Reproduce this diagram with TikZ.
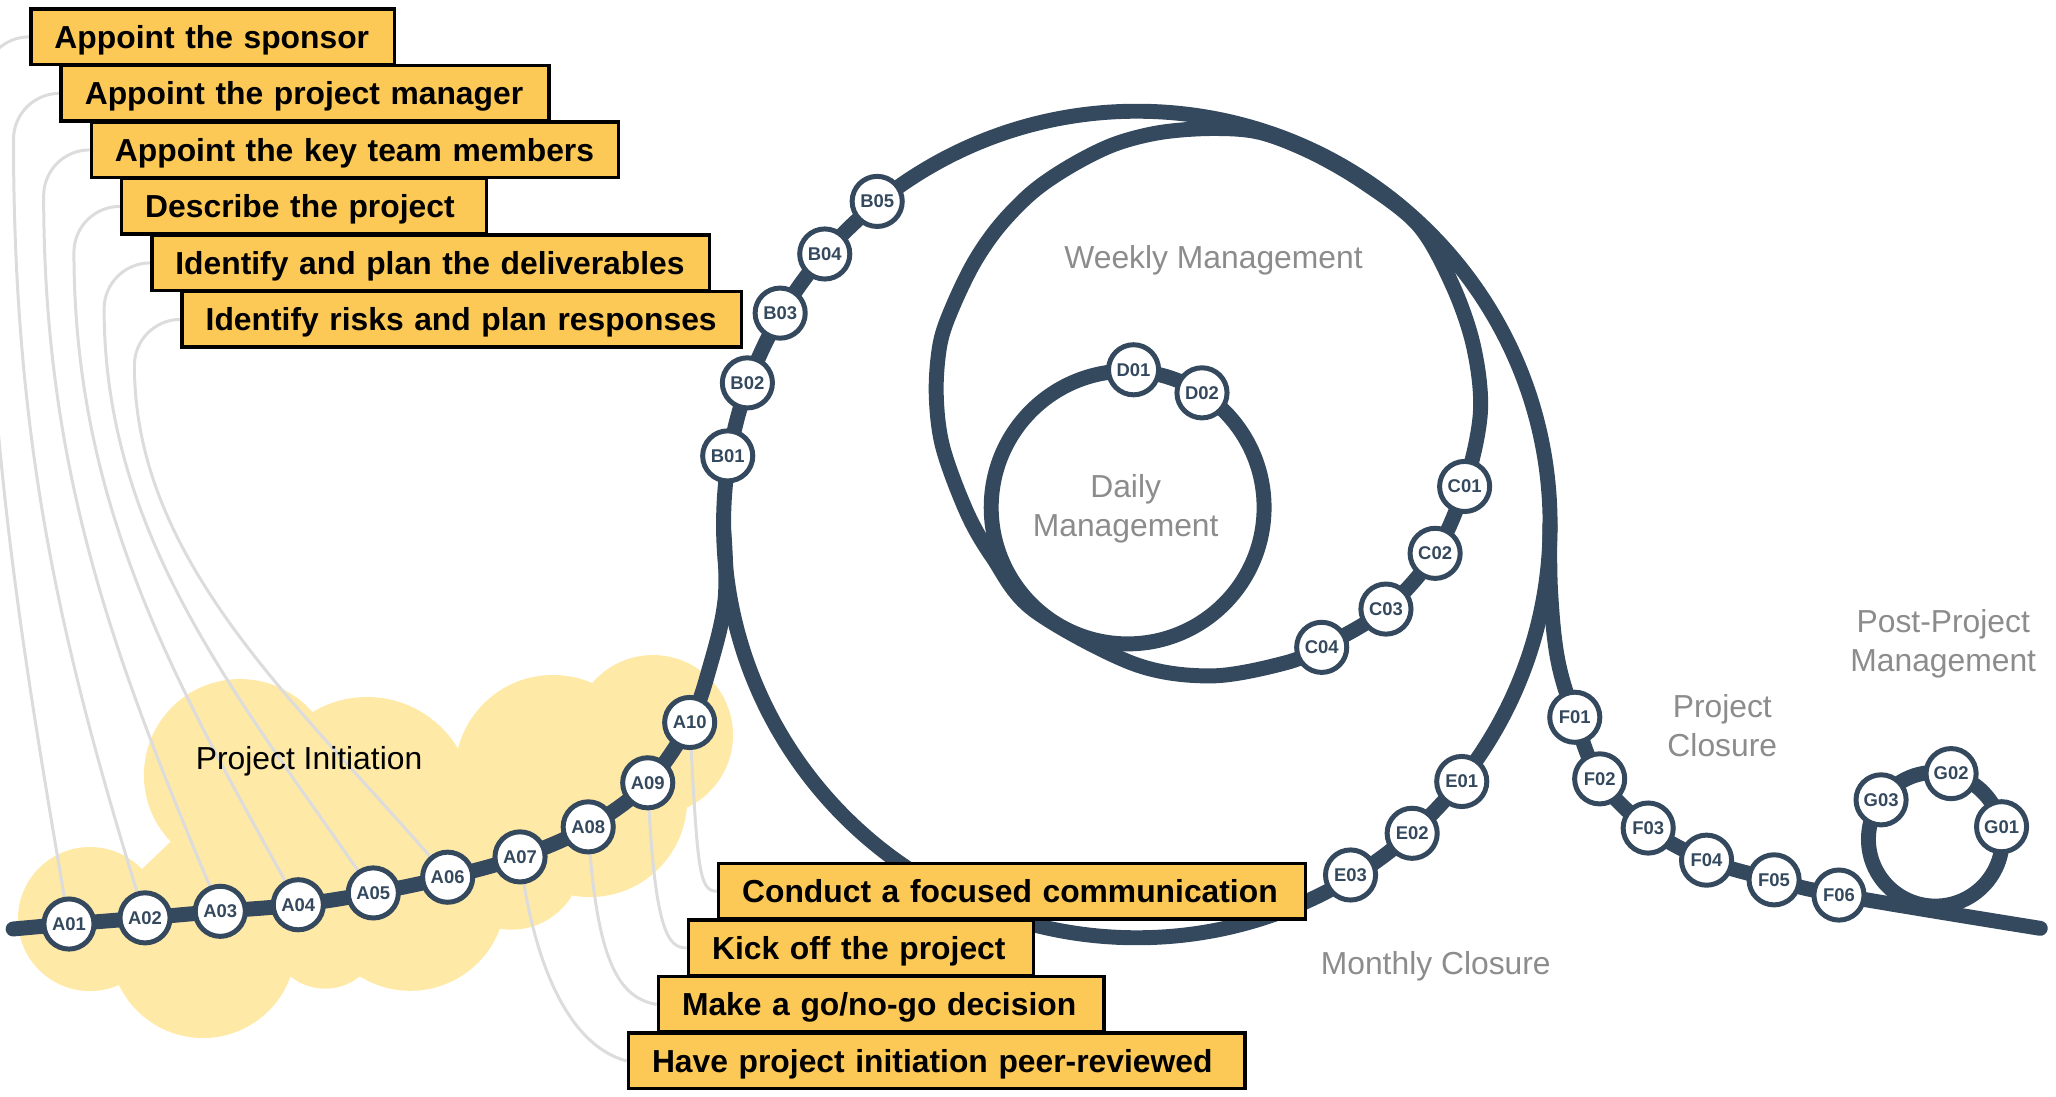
\documentclass[tikz,border=0pt]{standalone}
\usepackage{fontspec}
\setmainfont{Liberation Sans}
\definecolor{track}{HTML}{34495E}
\definecolor{boxfill}{HTML}{FCC957}
\definecolor{cloudfill}{HTML}{FFE9A6}
\definecolor{connc}{HTML}{DCDCDC}
\definecolor{labelc}{HTML}{8C8C8C}
\pgfdeclarelayer{cloudL}\pgfdeclarelayer{connL}\pgfdeclarelayer{trackL}
\pgfsetlayers{cloudL,connL,trackL,main}
\tikzset{
 stop/.style={circle, draw=track, line width=1.08pt, fill=white, inner sep=0pt,
   minimum size=0.382cm, font=\fontsize{4}{4.8}\selectfont\bfseries, text=track},
 trk/.style={draw=track, line width=3.24pt, line cap=round, line join=round},
 conn/.style={draw=connc, line width=0.65pt},
 task/.style={draw=black, line width=0.77pt, fill=boxfill, anchor=north west,
   inner xsep=0.18cm, inner ysep=0pt, minimum height=0.423cm, text height=0.174cm,
   text depth=0cm, align=left, font=\fontsize{6.9}{8.3}\selectfont\bfseries},
 phase/.style={text=labelc, font=\fontsize{6.9}{8.3}\selectfont, inner sep=0pt, align=center},
}
\begin{document}
\begin{tikzpicture}[x=0.01cm, y=-0.01cm]
\useasboundingbox (0,0) rectangle (1568,836);

% ---------- stops ----------
\foreach \n/\x/\y in {A01/52.6/704.7, A02/110.6/700, A03/168/695, A04/227.5/690,
  A05/284.7/681, A06/341.4/669, A07/396.6/653.5, A08/448.6/630.6, A09/494/597, A10/526/551,
  B01/555/347.7, B02/570/292, B03/595/238.8, B04/629/193.7, B05/669/153.6,
  C01/1117/371, C02/1094.5/422, C03/1057/464.5, C04/1008/493.7,
  D01/864.5/282, D02/916.7/299.6,
  E01/1114.8/596, E02/1077/635.5, E03/1030/667.3,
  F01/1201/547, F02/1220/594, F03/1257/631.5, F04/1301.5/656, F05/1353/671, F06/1402.5/682.6,
  G01/1526.5/630.5, G02/1488/590, G03/1434.6/610}
  \node[stop] (\n) at (\x,\y) {\n};

% ---------- task boxes ----------
\node[task, text width=2.413cm] (b1) at (22.2,5.6) {Appoint the sponsor};
\node[task, text width=3.36cm] (b2) at (45.3,48.7) {Appoint the project manager};
\node[task, text width=3.658cm] (b3) at (68.3,91.8) {Appoint the key team members};
\node[task, text width=2.42cm] (b4) at (91.4,134.9) {Describe the project};
\node[task, text width=3.891cm] (b5) at (114.4,178) {Identify and plan the deliverables};
\node[task, text width=3.903cm] (b6) at (137.5,221.1) {Identify risks and plan responses};
\node[task, text width=4.114cm] (b7) at (546.6,657.2) {Conduct a focused communication};
\node[task, text width=2.271cm] (b8) at (523.7,700.4) {Kick off the project};
\node[task, text width=3.035cm] (b9) at (500.8,743.5) {Make a go/no-go decision};
\node[task, text width=4.34cm] (b10) at (477.9,786.6) {Have project initiation peer-reviewed};

% ---------- phase labels ----------
\node[phase, anchor=base] (wk) at (925.5,204.6) {Weekly Management};
\node[phase, anchor=north] (dm) at (858.5,361.4) {Daily\\Management};
\node[phase, anchor=base] (mc) at (1095,743) {Monthly Closure};
\node[phase, anchor=north] (pc) at (1313.5,529.2) {Project\\Closure};
\node[phase, anchor=north] (pp) at (1482,464.3) {Post-Project\\Management};
\node[anchor=base west, inner sep=0pt, font=\fontsize{6.9}{8.3}\selectfont] (pi) at (148.7,586.7) {Project Initiation};

% ---------- cloud ----------
\begin{pgfonlayer}{cloudL}
\fill[cloudfill] (68.6,700.9) circle[radius=0.549cm];
\fill[cloudfill] (154.8,720.7) circle[radius=0.709cm];
\fill[cloudfill] (183,591.1) circle[radius=0.732cm];
\fill[cloudfill] (279.9,612.4) circle[radius=0.808cm];
\fill[cloudfill] (421.7,589.5) circle[radius=0.747cm];
\fill[cloudfill] (498,560.6) circle[radius=0.61cm];
\fill[cloudfill] (450,610.1) circle[radius=0.74cm];
\fill[cloudfill] (390,655) circle[radius=0.54cm];
\fill[cloudfill] (313,682.8) circle[radius=0.728cm];
\fill[cloudfill] (248,712) circle[radius=0.42cm];
\fill[cloudfill] (68.6,700.9) -- (183,591.1) -- (279.9,612.4) -- (421.7,589.5) -- (498,560.6)
  -- (450,610.1) -- (390,655) -- (313,682.8) -- (248,712) -- (154.8,720.7) -- cycle;
\end{pgfonlayer}

% ---------- connectors ----------
\begin{pgfonlayer}{connL}
\draw[conn] (b1.west) .. controls +(-19.3,0) and +(0,-19.3) .. ++(-35,35)
  .. controls +(0,257) and (14.6,481.9) .. (A01.center);
\draw[conn] (b2.west) .. controls +(-19.3,0) and +(0,-19.3) .. ++(-35,35)
  .. controls +(0,238) and (48.1,498.5) .. (A02.center);
\draw[conn] (b3.west) .. controls +(-19.3,0) and +(0,-19.3) .. ++(-35,35)
  .. controls +(0,218.6) and (91.8,513.4) .. (A03.center);
\draw[conn] (b4.west) .. controls +(-19.3,0) and +(0,-19.3) .. ++(-35,35)
  .. controls +(0,199) and (138.8,528.8) .. (A04.center);
\draw[conn] (b5.west) .. controls +(-19.3,0) and +(0,-19.3) .. ++(-35,35)
  .. controls +(0,178.6) and (188,538.8) .. (A05.center);
\draw[conn] (b6.west) .. controls +(-19.3,0) and +(0,-19.3) .. ++(-35,35)
  .. controls +(0,156) and (238.4,546.4) .. (A06.center);
\draw[conn] (A10.center) .. controls +(6,110) and +(-14,0) .. (b7.west);
\draw[conn] (A09.center) .. controls +(5,115) and +(-14,0) .. (b8.west);
\draw[conn] (A08.center) .. controls +(6,100) and +(-30,-5) .. (b9.west);
\draw[conn] (A07.center) .. controls +(10,80) and +(-45,-12) .. (b10.west);
\end{pgfonlayer}

% ---------- track ----------
\begin{pgfonlayer}{trackL}
\draw[trk] plot[smooth, tension=0.6] coordinates {(10,708.5) (A01.center) (A02.center)
  (A03.center) (A04.center) (A05.center) (A06.center) (A07.center) (A08.center)
  (A09.center) (A10.center) (541.5,508) (553,457) (552,405)};
\draw[trk] (867,400) circle[radius=3.15cm];
\draw[trk] plot[smooth cycle, tension=0.55] coordinates {(885,101) (925,98) (961,101)
  (1000,116) (1040,139) (1082,172) (1108,218) (1124,265) (1129,315) (C01.center) (C02.center)
  (C03.center) (C04.center) (978.5,506) (923,515.5) (864,506) (788,465) (757,425)
  (737.5,391) (719,341) (714,300) (717,262) (726.5,234) (743,200) (762.4,172) (788,146)
  (817.5,126) (850,110)};
\draw[trk] (860,387) circle[radius=1.04cm];
\draw[trk] plot[smooth, tension=0.6] coordinates {(1182,400) (1182.5,450) (1188,503)
  (F01.center) (F02.center) (F03.center) (F04.center) (F05.center) (F06.center) (1556,708)};
\draw[trk] (1476,640) circle[radius=0.51cm];
\end{pgfonlayer}
\end{tikzpicture}
\end{document}
